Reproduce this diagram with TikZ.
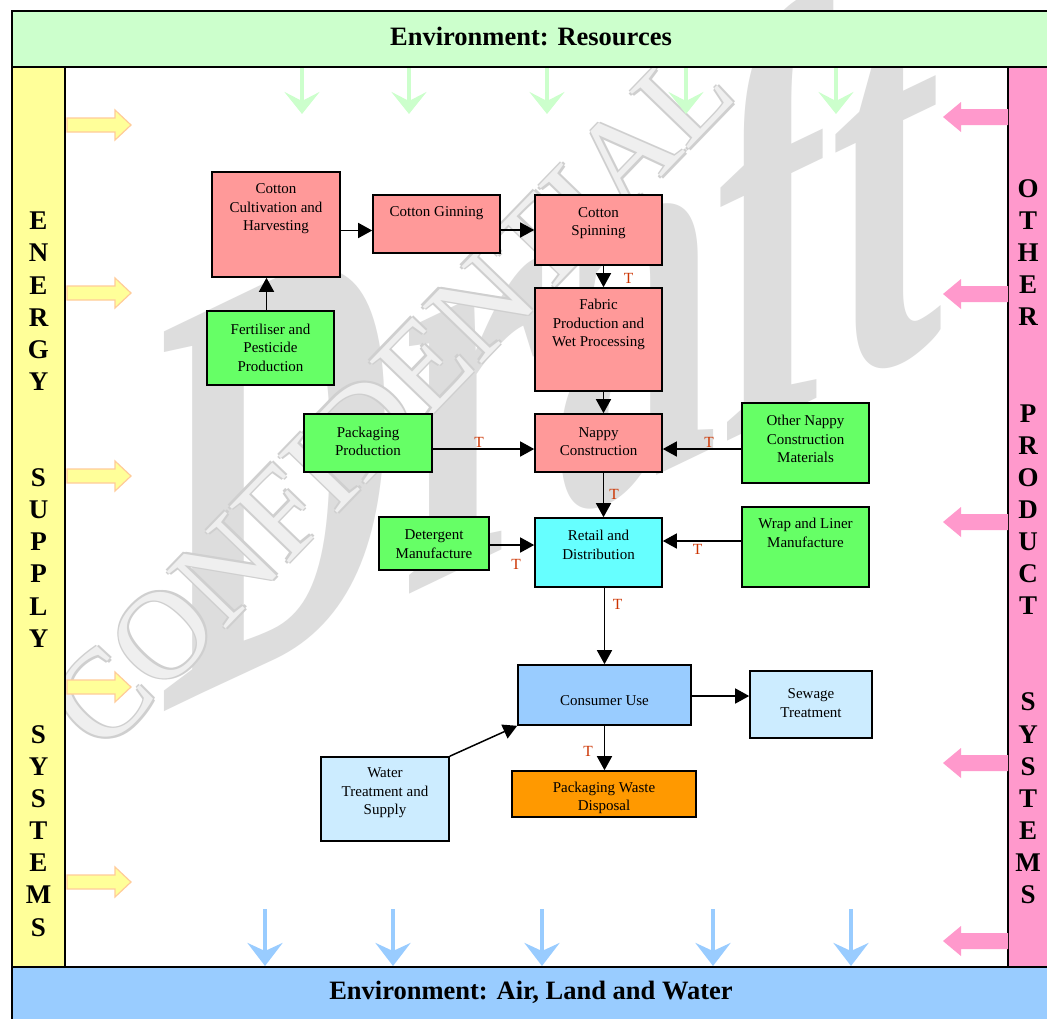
\documentclass[tikz,border=0pt]{standalone}
\usepackage{fontspec}
\setmainfont{Liberation Serif}
\usetikzlibrary{arrows.meta,calc}
\definecolor{envtop}{HTML}{CCFFCC}
\definecolor{envbot}{HTML}{99CCFF}
\definecolor{energy}{HTML}{FFFF99}
\definecolor{energyedge}{HTML}{FFCC99}
\definecolor{othersys}{HTML}{FF99CC}
\definecolor{procred}{HTML}{FF9999}
\definecolor{procgreen}{HTML}{66FF66}
\definecolor{proccyan}{HTML}{66FFFF}
\definecolor{procblue}{HTML}{99CCFF}
\definecolor{procpale}{HTML}{CCECFF}
\definecolor{procorange}{HTML}{FF9900}
\definecolor{tlabel}{HTML}{CC3300}
\definecolor{wmark}{HTML}{DDDDDD}
\definecolor{wmarkedge}{HTML}{CFCFCF}
\definecolor{wmarkfill}{HTML}{EFEFEF}
\tikzset{
  procbox/.style={draw=black, line width=1.6pt, inner sep=0pt, rectangle},
  boxtext/.style={align=center, font=\fontsize{15}{18.5}\selectfont, inner sep=0pt},
  conn/.style={draw=black, line width=1.5pt, -{Triangle[length=14pt,width=15pt]}},
  tmark/.style={text=tlabel, font=\fontsize{15.5}{17}\selectfont, inner sep=0pt},
  envtitle/.style={font=\bfseries\fontsize{26.5}{30}\selectfont, inner sep=0pt},
  sideletter/.style={font=\bfseries\fontsize{27}{30}\selectfont, inner sep=0pt},
  resarrow/.style={draw=envtop, line width=4.5pt, -{Stealth[length=22pt,width=35pt,inset=9pt]}},
  emarrow/.style={draw=envbot, line width=4pt, -{Stealth[length=23pt,width=35pt,inset=8pt]}},
  energyarrow/.style={fill=energy, draw=energyedge, line width=1.2pt},
  otherarrow/.style={fill=othersys, draw=none},
  barframe/.style={draw=black, line width=1.5pt},
  wmconfstyle/.style={font=\fontsize{125}{125}\selectfont, rotate=46, inner sep=0pt},
}
\newcommand\procbx[8]{%
  \node[procbox, fill=#6, minimum width={#4-#2}, minimum height={#5-#3}] (#1) at ({(#2+#4)/2},{(#3+#5)/2}) {};
  \node[boxtext] (#1-t) at ({(#2+#4)/2},#7) {#8};}
\begin{document}
\begin{tikzpicture}[x=1pt,y=-1pt]
\useasboundingbox (0,0) rectangle (1047,1018);
\clip (0,0) rectangle (1047,1018);
\fill[white] (0,0) rectangle (1047,1018);
% watermark
\node[text=wmark, font=\bfseries\fontsize{580}{600}\selectfont, inner sep=0pt, anchor=base west, transform shape, yslant=0.48, xscale=0.58] (wmdraft) at (158,715) {Draft};
\foreach \dx/\dy [count=\k] in {-1.5/-1.5,1.5/1.5,-1.5/1.5,1.5/-1.5}
  \node[text=wmarkedge, wmconfstyle] (wmc\k) at (392+\dx,398+\dy) {CONFIDENTIAL};
\node[text=wmarkfill, wmconfstyle] (wmconf) at (392,398) {CONFIDENTIAL};
% frame bars
\draw[barframe, fill=envtop] (12,11) rectangle (1070,67);
\draw[barframe, fill=energy] (12,67) rectangle (65,967);
\draw[barframe, fill=othersys] (1008,67) rectangle (1070,967);
\draw[barframe, fill=envbot] (12,967) rectangle (1070,1040);
\node[envtitle] (envres) at (531,36) {Environment: Resources};
\node[envtitle] (envalw) at (531,992.5) {Environment: Air, Land and Water};
\foreach \ch [count=\i] in {E,N,E,R,G,Y,{},{},S,U,P,P,L,Y,{},{},S,Y,S,T,E,M,S}
  \node[sideletter] (es\i) at (38.5,{221+(\i-1)*32.1}) {\ch};
\foreach \ch [count=\i] in {O,T,H,E,R,{},{},P,R,O,D,U,C,T,{},{},S,Y,S,T,E,M,S}
  \node[sideletter] (os\i) at (1028,{188.5+(\i-1)*32.1}) {\ch};
% resource arrows
\foreach \x [count=\i] in {302,409,547,686,836} {
  \coordinate (ra\i) at (\x,68);
  \coordinate (rb\i) at (\x,114);
  \draw[resarrow] (ra\i) -- (rb\i);
}
% emission arrows
\foreach \x [count=\i] in {265,393,542,713,851} {
  \coordinate (ea\i) at (\x,909);
  \coordinate (eb\i) at (\x,966);
  \draw[emarrow] (ea\i) -- (eb\i);
}
% energy block arrows
\foreach \c in {125,293,476,687,882}
  \draw[energyarrow] (67,\c-7) -- (115,\c-7) -- (115,\c-15) -- (131,\c) -- (115,\c+15) -- (115,\c+7) -- (67,\c+7) -- cycle;
% other-system block arrows
\foreach \c in {117,294,522,763,941}
  \fill[otherarrow] (1008,\c-8) -- (961,\c-8) -- (961,\c-15) -- (943,\c) -- (961,\c+15) -- (961,\c+8) -- (1008,\c+8) -- cycle;
% process boxes
\procbx{cult}{212}{172}{340}{277}{procred}{209}{Cotton\\Cultivation and\\Harvesting}
\procbx{gin}{373}{195}{500}{253}{procred}{213}{Cotton Ginning}
\procbx{spin}{535}{195}{662}{265}{procred}{223}{Cotton\\Spinning}
\procbx{fab}{535}{288}{662}{391}{procred}{324.5}{Fabric\\Production and\\Wet Processing}
\procbx{fert}{207}{311}{334}{385}{procgreen}{347.5}{Fertiliser and\\Pesticide\\Production}
\procbx{pack}{304}{414}{432}{472}{procgreen}{441.5}{Packaging\\Production}
\procbx{nappy}{535}{414}{662}{472}{procred}{441.5}{Nappy\\Construction}
\procbx{other}{742}{403}{869}{483}{procgreen}{439}{Other Nappy\\Construction\\Materials}
\procbx{det}{379}{517}{489}{570}{procgreen}{544}{Detergent\\Manufacture}
\procbx{retail}{535}{518}{662}{587}{proccyan}{545}{Retail and\\Distribution}
\procbx{wrap}{742}{507}{869}{587}{procgreen}{533}{Wrap and Liner\\Manufacture}
\procbx{cons}{518}{665}{691}{725}{procblue}{701}{Consumer Use}
\procbx{sew}{750}{671}{872}{738}{procpale}{703}{Sewage\\Treatment}
\procbx{water}{321}{757}{449}{841}{procpale}{793}{Water\\Treatment and\\Supply}
\procbx{waste}{512}{771}{696}{817}{procorange}{798}{Packaging Waste\\Disposal}
% connectors
\draw[conn] ($(cult.east)+(0,6)$) coordinate (c1) -- (c1 -| gin.west);
\draw[conn] ($(gin.east)+(0,6)$) coordinate (c2) -- (c2 -| spin.west);
\draw[conn] ($(spin.south)+(5,0)$) coordinate (c3) -- (c3 |- fab.north);
\draw[conn] ($(fert.north)+(-4,0)$) coordinate (c4) -- (c4 |- cult.south);
\draw[conn] ($(fab.south)+(5,0)$) coordinate (c5) -- (c5 |- nappy.north);
\draw[conn] ($(pack.east)+(0,6)$) coordinate (c6) -- (c6 -| nappy.west);
\draw[conn] ($(other.west)+(0,6)$) coordinate (c7) -- (c7 -| nappy.east);
\draw[conn] ($(nappy.south)+(5,0)$) coordinate (c8) -- (c8 |- retail.north);
\draw[conn] ($(det.east)+(0,1.5)$) coordinate (c9) -- (c9 -| retail.west);
\draw[conn] ($(wrap.west)+(0,-6)$) coordinate (c10) -- (c10 -| retail.east);
\draw[conn] ($(retail.south)+(6,0)$) coordinate (c11) -- (c11 |- cons.north);
\draw[conn] ($(cons.east)+(0,1)$) coordinate (c12) -- (c12 -| sew.west);
\draw[conn] (water.north east) -- (cons.south west);
\draw[conn] ($(cons.south)+(0,0)$) coordinate (c14) -- (c14 |- waste.north);
% transport labels
\node[tmark] (t1) at (628.5,278) {T};
\node[tmark] (t2) at (479,442.5) {T};
\node[tmark] (t3) at (709,442.5) {T};
\node[tmark] (t4) at (614,494) {T};
\node[tmark] (t5) at (516,564) {T};
\node[tmark] (t6) at (697.5,549) {T};
\node[tmark] (t7) at (617.5,604) {T};
\node[tmark] (t8) at (588,751) {T};
\end{tikzpicture}
\end{document}
